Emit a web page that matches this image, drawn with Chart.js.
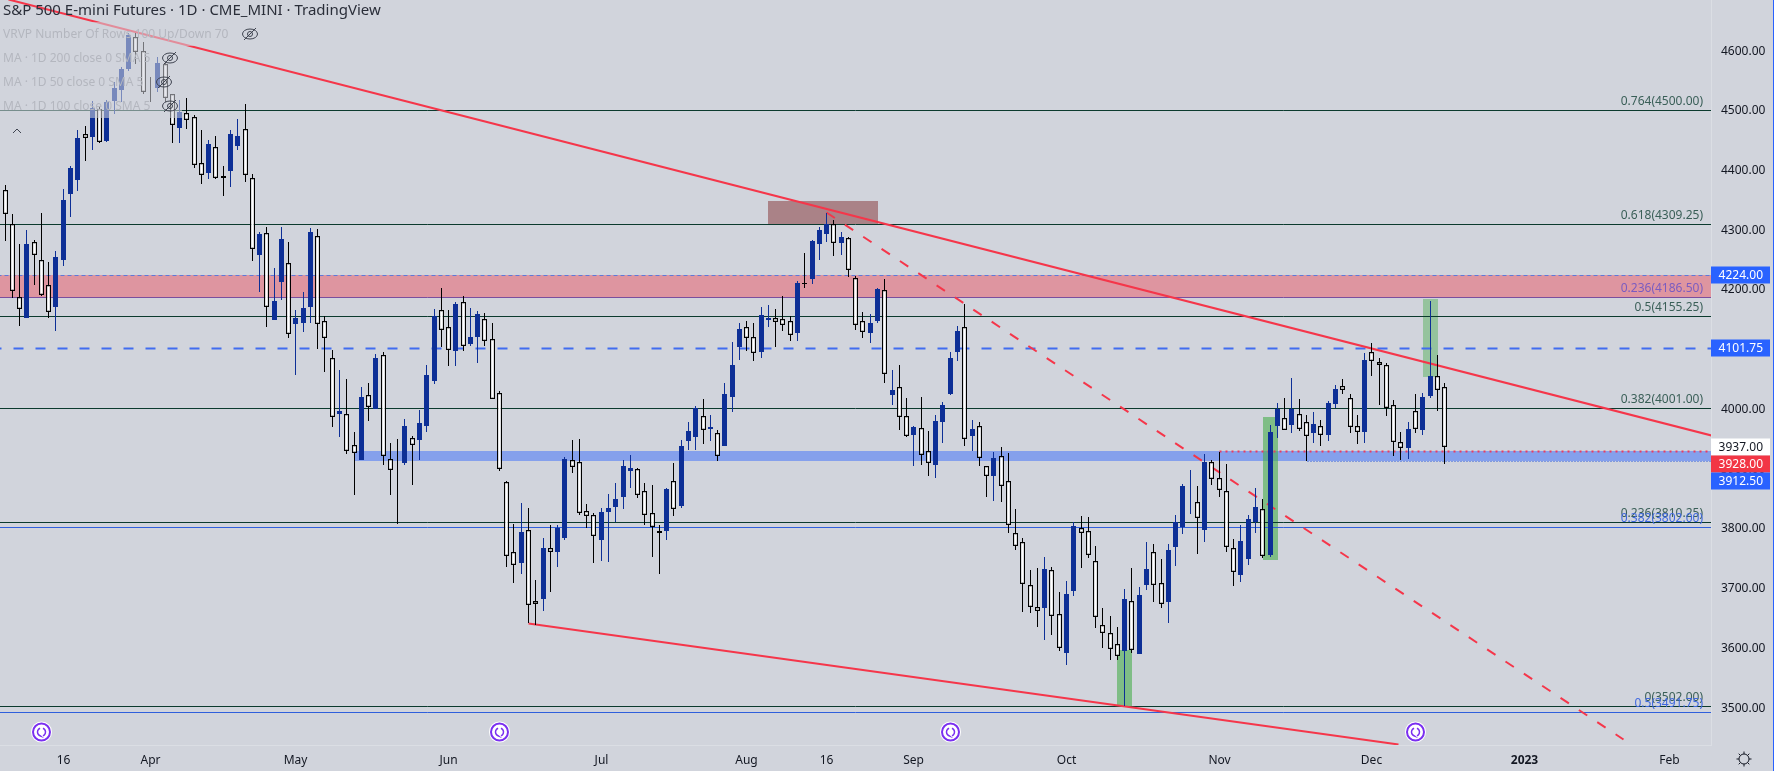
<!DOCTYPE html>
<html>
<head>
<meta charset="utf-8">
<title>S&amp;P 500 E-mini Futures</title>
<script src="https://cdn.jsdelivr.net/npm/chart.js@4/dist/chart.umd.js"></script>
<style>
    html, body { margin: 0; padding: 0; background: #d1d4dc; overflow: hidden; }
    canvas { display: block; }
</style>
</head>
<body>
<canvas id="futuresChart" width="1774" height="771"></canvas>
<script>
// daily candles
const opens = [
    4366,4309,4187,4153,4279,4249,4207,4171,4249,4360,
    4383,4460,4456,4503,4448,4516,4534,4569,4622,4599,
    4541,4537,4577,4527,4470,4495,4488,4411,4395,4438,
    4390,4398,4440,4468,4386,4258,4294,4149,4213,4244,
    4142,4144,4171,4289,4147,4086,3992,3991,3939,3915,
    4024,4000,4091,3916,3900,3909,3951,3948,3971,4047,
    4165,4138,4097,4179,4109,4121,4150,4117,4026,3877,
    3760,3742,3798,3679,3682,3767,3760,3784,3914,3911,
    3829,3822,3781,3827,3836,3853,3896,3899,3862,3825,
    3795,3796,3879,3837,3946,3953,3988,3966,3959,3938,
    4020,4104,4137,4120,4095,4149,4152,4150,4148,4127,
    4211,4218,4276,4293,4309,4278,4287,4220,4147,4127,
    4147,4199,4023,4036,3988,3956,3968,3929,3906,3978,
    4025,4095,4137,3955,3972,3904,3888,3922,3879,3793,
    3777,3705,3668,3667,3730,3656,3591,3695,3800,3795,
    3745,3638,3624,3606,3595,3679,3590,3705,3760,3708,
    3677,3769,3803,3840,3844,3797,3911,3884,3862,3767,
    3722,3749,3810,3832,3755,3971,3984,3973,3991,3978,
    3960,3972,3956,4008,4038,4019,3972,3961,4095,4078,
    4073,4006,3944,3935,3996,3965,4022,4055,4036
];
const closes = [
    4327,4198,4168,4276,4257,4191,4163,4254,4350,4403,
    4454,4453,4504,4447,4514,4537,4569,4626,4597,4531,
    4540,4580,4520,4476,4497,4483,4409,4392,4444,4387,
    4386,4460,4457,4391,4267,4293,4170,4181,4285,4126,
    4152,4169,4296,4143,4119,3987,3997,3930,3927,4020,
    4004,4085,3922,3897,3899,3971,3940,3976,4057,4156,
    4132,4098,4176,4106,4121,4159,4113,4016,3900,3753,
    3739,3794,3671,3674,3767,3761,3801,3916,3903,3825,
    3820,3788,3827,3834,3849,3904,3901,3856,3823,3803,
    3793,3866,3833,3938,3963,4002,3964,3970,3922,4025,
    4074,4134,4119,4093,4157,4152,4146,4141,4124,4211,
    4210,4281,4300,4309,4277,4288,4232,4141,4129,4144,
    4201,4059,4032,3987,3955,3970,3923,3910,3980,4007,
    4085,4130,3950,3966,3918,3888,3918,3871,3805,3771,
    3707,3669,3661,3732,3654,3600,3690,3804,3793,3756,
    3652,3624,3598,3587,3682,3597,3688,3732,3706,3674,
    3764,3810,3871,3841,3818,3911,3882,3865,3768,3727,
    3779,3816,3836,3754,3961,4000,3965,4000,3967,3954,
    3975,3957,4010,4033,4032,3969,3962,4082,4081,4074,
    4002,3944,3935,3966,3967,4020,4055,4031,3937
];
const highs = [
    4375,4326,4276,4300,4283,4328,4246,4264,4368,4407,
    4467,4474,4516,4506,4518,4547,4573,4629,4629,4614,
    4555,4590,4579,4528,4517,4521,4492,4467,4450,4457,
    4407,4467,4486,4511,4393,4296,4304,4236,4304,4280,
    4166,4196,4303,4301,4155,4099,4065,4050,3961,4037,
    4043,4092,4095,3943,3950,3983,3955,3998,4074,4168,
    4202,4166,4179,4189,4169,4164,4161,4144,4030,3879,
    3807,3842,3834,3714,3784,3806,3806,3920,3948,3950,
    3841,3826,3834,3858,3876,3915,3923,3901,3876,3873,
    3806,3868,3909,3948,3978,4005,4017,3990,3965,4043,
    4112,4144,4147,4144,4171,4174,4167,4189,4156,4214,
    4261,4283,4305,4328,4316,4296,4288,4223,4162,4159,
    4202,4218,4065,4074,4018,3971,4020,3963,3990,4012,
    4095,4139,4176,3981,3978,3904,3928,3936,3926,3832,
    3784,3730,3734,3752,3735,3693,3712,3811,3821,3819,
    3770,3667,3653,3635,3698,3734,3702,3777,3774,3749,
    3774,3822,3874,3898,3871,3925,3915,3928,3908,3782,
    3806,3822,3868,3849,3973,4010,4018,4052,4017,3990,
    3995,3981,4013,4040,4050,4025,3990,4094,4110,4085,
    4077,4015,3961,3978,4025,4027,4181,4090,4043
];
const lows = [
    4282,4186,4139,4153,4208,4189,4153,4131,4239,4322,
    4365,4415,4434,4446,4447,4494,4514,4566,4577,4527,
    4514,4530,4514,4445,4445,4469,4403,4377,4385,4385,
    4357,4372,4434,4380,4248,4196,4138,4149,4182,4119,
    4057,4129,4144,4101,4062,3970,3953,3925,3856,3915,
    3980,4000,3906,3856,3808,3906,3873,3915,3961,4042,
    4104,4072,4072,4097,4105,4077,4105,4016,3896,3735,
    3708,3724,3641,3638,3662,3693,3735,3781,3893,3822,
    3801,3742,3745,3744,3810,3832,3868,3851,3806,3752,
    3724,3781,3821,3834,3931,3931,3941,3946,3913,3938,
    3995,4082,4097,4080,4085,4137,4104,4130,4114,4114,
    4203,4209,4249,4280,4256,4258,4221,4132,4119,4110,
    4144,4043,4007,3965,3953,3904,3906,3888,3884,3943,
    4023,4080,3938,3930,3904,3853,3846,3844,3792,3764,
    3660,3658,3635,3613,3621,3595,3571,3687,3734,3750,
    3633,3600,3580,3580,3502,3591,3590,3697,3677,3667,
    3642,3737,3791,3824,3757,3777,3873,3853,3760,3704,
    3710,3739,3792,3750,3752,3951,3965,3960,3963,3912,
    3943,3938,3946,4002,4025,3960,3941,3943,4055,4007,
    3988,3921,3915,3916,3960,3956,4018,3997,3908
];

// price axis and time axis
const yTicks = [3500,3600,3700,3800,3900,4000,4100,4200,4300,4400,4500,4600];
const xTickIndex = [8,20,40,61,82,102,113,125,146,167,188,209,229];
const xTickLabels = ['16','Apr','May','Jun','Jul','Aug','16','Sep','Oct','Nov','Dec','2023','Feb'];

// fib levels
const fibValues = [4500,4309.25,4155.25,4001,3810.25,3502];
const fibRatios = ['0.764','0.618','0.5','0.382','0.236','0'];
const fibBlueValues = [4186.5,3802,3491.75];
const fibBlueRatios = ['0.236','0.382','0.5'];

// trend lines [index, price]
const upperTrend = [[0.5,4685],[234.65,3955]];
const midTrend = [[113,4328.5],[222.6,3447]];
const lowerTrend = [[72,3641.5],[191.6,3438.4]];

// shaded boxes
const boxFrom = [-1,48.2,105.05,153.05,173.15,195.15];
const boxTo = [235,235,120.1,155.1,175.1,197.1];
const boxTop = [4224,3928,4348,3595,3985,4184];
const boxBottom = [4186.5,3912.5,4309.25,3500,3747,4053];
const boxFill = ['rgba(242,54,69,0.4)','rgba(41,98,255,0.45)','rgb(170,130,135)','rgba(76,175,80,0.62)','rgba(76,175,80,0.62)','rgba(76,175,80,0.45)'];

// price tags on the right
const tagValues = [4224,4101.75,3937,3928,3912.5];
const tagFill = ['#2962ff','#2962ff','#ffffff','#f23645','#2962ff'];
const tagText = ['#ffffff','#ffffff','#131722','#ffffff','#ffffff'];

const eventIndex = [5,68,130,194];

const legendRows = [
    'VRVP Number Of Rows 100 Up/Down 70',
    'MA \u00b7 1D 200 close 0 SMA 5',
    'MA \u00b7 1D 50 close 0 SMA 5',
    'MA \u00b7 1D 100 close 0 SMA 5'
];
const chartTitle = 'S&P 500 E-mini Futures \u00b7 1D \u00b7 CME_MINI \u00b7 TradingView';

const UP = '#0d2f96';
const DARK_GREEN = '#0b3a2e';
const BLUE_LINE = '#2f5fdc';
const RED = '#f5364a';
const LABEL_FONT = '12px "Noto Sans"';

// snaps pixels so candles and levels stay crisp
class SnapScale extends Chart.LinearScale {
    getPixelForValue(value) {
        const snap = this.options.snap || 0;
        return Math.round(super.getPixelForValue(value) - snap) + snap;
    }
}
SnapScale.id = 'snap';
SnapScale.defaults = Chart.LinearScale.defaults;
Chart.register(SnapScale);

function levelLine(value, from, to, color, width, dash, dashOffset) {
    return {
        type: 'line',
        yAxisID: 'yLine',
        data: [{x: from, y: value}, {x: to, y: value}],
        borderColor: color,
        borderWidth: width,
        borderDash: dash || [],
        borderDashOffset: dashOffset || 0,
        pointRadius: 0,
        order: 5
    };
}

function trendLine(points, dash) {
    return {
        type: 'line',
        yAxisID: 'yLine',
        data: points.map(p => ({x: p[0], y: p[1]})),
        borderColor: RED,
        borderWidth: 2,
        borderDash: dash || [],
        pointRadius: 0,
        order: 4
    };
}

function candleBars(pick, lowField, highField, fill, border, thickness, order) {
    const data = [];
    opens.forEach((open, i) => {
        if (pick(i)) data.push({x: i, y: [lowField(i), highField(i)]});
    });
    return {
        type: 'bar',
        data: data,
        backgroundColor: fill,
        borderColor: border,
        borderWidth: border ? 1.3 : 0,
        borderSkipped: false,
        inflateAmount: 0,
        barThickness: thickness,
        grouped: false,
        order: order
    };
}

const isUp = i => closes[i] >= opens[i];
const isDown = i => closes[i] < opens[i];
const bodyLow = i => Math.min(opens[i], closes[i]);
const bodyHigh = i => Math.max(opens[i], closes[i]);
const wickLow = i => lows[i];
const wickHigh = i => highs[i];

const datasets = [
    levelLine(4224, -1, 235, '#5f78d8', 1, [4, 3]),
    levelLine(4101.75, -1, 235, '#416cf0', 2, [10, 12], 6),
    levelLine(3928, 167.1, 235, '#ee3a5c', 2, [2, 4]),
    levelLine(3912.5, 179.1, 235, '#2f5fdc', 1, [1, 2]),
    trendLine(upperTrend),
    trendLine(midTrend, [10, 12]),
    trendLine(lowerTrend),
    candleBars(isUp, wickLow, wickHigh, UP, null, 1, 2),
    candleBars(isDown, wickLow, wickHigh, '#000000', null, 1, 2),
    candleBars(isUp, bodyLow, bodyHigh, UP, null, 5, 1),
    candleBars(isDown, bodyLow, bodyHigh, '#ffffff', '#000000', 5, 1)
];
fibValues.forEach(v => datasets.push(levelLine(v, -1, 235, DARK_GREEN, 1)));
fibBlueValues.forEach((v, i) => datasets.push(levelLine(v, -1, 235, i === 0 ? '#7a4f9e' : BLUE_LINE, 1)));

const boxesPlugin = {
    id: 'boxes',
    beforeDatasetsDraw(chart) {
        const {ctx, scales: {x, yLine}, chartArea: area} = chart;
        ctx.save();
        ctx.beginPath();
        ctx.rect(area.left, area.top, area.width, area.height);
        ctx.clip();
        boxFrom.forEach((from, i) => {
            const left = Math.floor(x.getPixelForValue(from));
            const top = Math.floor(yLine.getPixelForValue(boxTop[i]));
            ctx.fillStyle = boxFill[i];
            ctx.fillRect(left, top, Math.floor(x.getPixelForValue(boxTo[i])) - left, Math.floor(yLine.getPixelForValue(boxBottom[i])) - top);
        });
        ctx.restore();
    }
};

function drawFibLabel(ctx, chart, ratio, value, color) {
    const y = chart.scales.yLine.getPixelForValue(value);
    ctx.fillStyle = color;
    ctx.fillText(ratio + '(' + value.toFixed(2) + ')', 1703, y - 6);
}

function drawEye(ctx, cx, cy) {
    ctx.strokeStyle = '#3f4450';
    ctx.lineWidth = 1;
    ctx.beginPath();
    ctx.ellipse(cx, cy, 7.5, 5, 0, 0, Math.PI * 2);
    ctx.moveTo(cx + 2.5, cy);
    ctx.arc(cx, cy, 2.5, 0, Math.PI * 2);
    ctx.moveTo(cx - 6, cy + 6);
    ctx.lineTo(cx + 6, cy - 6);
    ctx.stroke();
}

function drawEventIcon(ctx, cx, cy) {
    ctx.fillStyle = '#ffffff';
    ctx.beginPath();
    ctx.arc(cx, cy, 10.5, 0, Math.PI * 2);
    ctx.fill();
    ctx.strokeStyle = '#7a2ff0';
    ctx.lineWidth = 2;
    ctx.beginPath();
    ctx.arc(cx, cy, 8.5, 0, Math.PI * 2);
    ctx.stroke();
    ctx.lineWidth = 1.5;
    ctx.beginPath();
    ctx.arc(cx, cy, 4, -1.2, 1.2);
    ctx.moveTo(cx - 1.5, cy + 3.7);
    ctx.arc(cx, cy, 4, 1.95, 4.35);
    ctx.stroke();
}

function drawGear(ctx, cx, cy) {
    ctx.strokeStyle = '#131722';
    ctx.lineWidth = 1;
    ctx.beginPath();
    ctx.arc(cx, cy, 5, 0, Math.PI * 2);
    for (let a = 0; a < 8; a++) {
        const angle = a * Math.PI / 4;
        ctx.moveTo(cx + Math.cos(angle) * 5, cy + Math.sin(angle) * 5);
        ctx.lineTo(cx + Math.cos(angle) * 7.5, cy + Math.sin(angle) * 7.5);
    }
    ctx.stroke();
}

const overlayPlugin = {
    id: 'overlay',
    afterDatasetsDraw(chart) {
        const ctx = chart.ctx;
        ctx.save();

        // fib labels
        ctx.font = LABEL_FONT;
        ctx.textAlign = 'right';
        ctx.textBaseline = 'alphabetic';
        fibValues.forEach((v, i) => drawFibLabel(ctx, chart, fibRatios[i], v, '#3a5f58'));
        fibBlueValues.forEach((v, i) => drawFibLabel(ctx, chart, fibBlueRatios[i], v, i === 0 ? '#7a5cc0' : '#3f68e0'));

        // legend panel dims what is under it
        ctx.fillStyle = 'rgba(209,212,220,0.55)';
        ctx.fillRect(0, 22, 182, 96);
        ctx.fillRect(182, 22, 80, 24);

        ctx.textAlign = 'left';
        ctx.textBaseline = 'middle';
        ctx.font = '15px "Noto Sans"';
        ctx.fillStyle = '#2a2e39';
        ctx.fillText(chartTitle, 3, 11);
        ctx.font = '12px "Noto Sans"';
        ctx.fillStyle = '#b4b7bf';
        legendRows.forEach((row, i) => ctx.fillText(row, 3, 35 + i * 24));

        drawEye(ctx, 250, 34);
        drawEye(ctx, 170, 58);
        drawEye(ctx, 164, 82);
        drawEye(ctx, 170, 106);

        ctx.strokeStyle = '#3f4450';
        ctx.lineWidth = 1;
        ctx.beginPath();
        ctx.moveTo(13, 133);
        ctx.lineTo(17, 129);
        ctx.lineTo(21, 133);
        ctx.stroke();

        eventIndex.forEach(i => drawEventIcon(ctx, chart.scales.x.getPixelForValue(i), 732));
        ctx.restore();
    },
    afterDraw(chart) {
        const ctx = chart.ctx;
        const yScale = chart.scales.y;
        ctx.save();
        ctx.font = LABEL_FONT;
        ctx.textAlign = 'right';
        ctx.textBaseline = 'middle';
        let previous = -100;
        tagValues.forEach((value, i) => {
            const y = Math.max(yScale.getPixelForValue(value), previous + 17);
            previous = y;
            ctx.fillStyle = tagFill[i];
            ctx.fillRect(1711, y - 8.5, 59, 17);
            ctx.fillStyle = tagText[i];
            ctx.fillText(value.toFixed(2), 1763, y + 1);
        });
        drawGear(ctx, 1744, 759);
        ctx.fillStyle = '#2962ff';
        ctx.fillRect(1773, 0, 1, 771);
        ctx.restore();
    }
};

new Chart(document.getElementById('futuresChart').getContext('2d'), {
    type: 'bar',
    data: {datasets: datasets},
    plugins: [boxesPlugin, overlayPlugin],
    options: {
        responsive: false,
        animation: false,
        parsing: {xAxisKey: 'x', yAxisKey: 'y'},
        layout: {padding: 0},
        plugins: {legend: {display: false}, tooltip: {enabled: false}, title: {display: false}},
        scales: {
            x: {
                type: 'snap',
                snap: 0.5,
                position: 'bottom',
                min: -0.7015,
                max: 234.65,
                offset: false,
                grid: {display: false, drawTicks: false},
                border: {display: true, color: '#dbdee4'},
                afterBuildTicks: axis => { axis.ticks = xTickIndex.map(v => ({value: v})); },
                afterFit: axis => {
                    axis.height = 26;
                    axis.paddingLeft = 0;
                    axis.paddingRight = 0;
                },
                ticks: {
                    autoSkip: false,
                    maxRotation: 0,
                    padding: 8,
                    color: '#131722',
                    font: ctx => ({family: 'Noto Sans', size: 12, weight: xTickLabels[ctx.index] === '2023' ? 'bold' : 'normal'}),
                    callback: (value, index) => xTickLabels[index]
                }
            },
            y: {
                type: 'snap',
                snap: 0,
                position: 'right',
                min: 3437.3,
                max: 4684.7,
                grid: {display: false, drawTicks: false},
                border: {display: true, color: '#dbdee4'},
                afterBuildTicks: axis => { axis.ticks = yTicks.map(v => ({value: v})); },
                afterFit: axis => {
                    axis.width = 63;
                    axis.paddingTop = 0;
                    axis.paddingBottom = 0;
                },
                ticks: {
                    padding: 10,
                    labelOffset: 1,
                    color: '#131722',
                    font: {family: 'Noto Sans', size: 12},
                    callback: value => value.toFixed(2)
                }
            },
            yLine: {
                type: 'snap',
                snap: 0.5,
                position: 'right',
                display: false,
                min: 3437.3,
                max: 4684.7
            }
        }
    }
});
</script>
</body>
</html>
